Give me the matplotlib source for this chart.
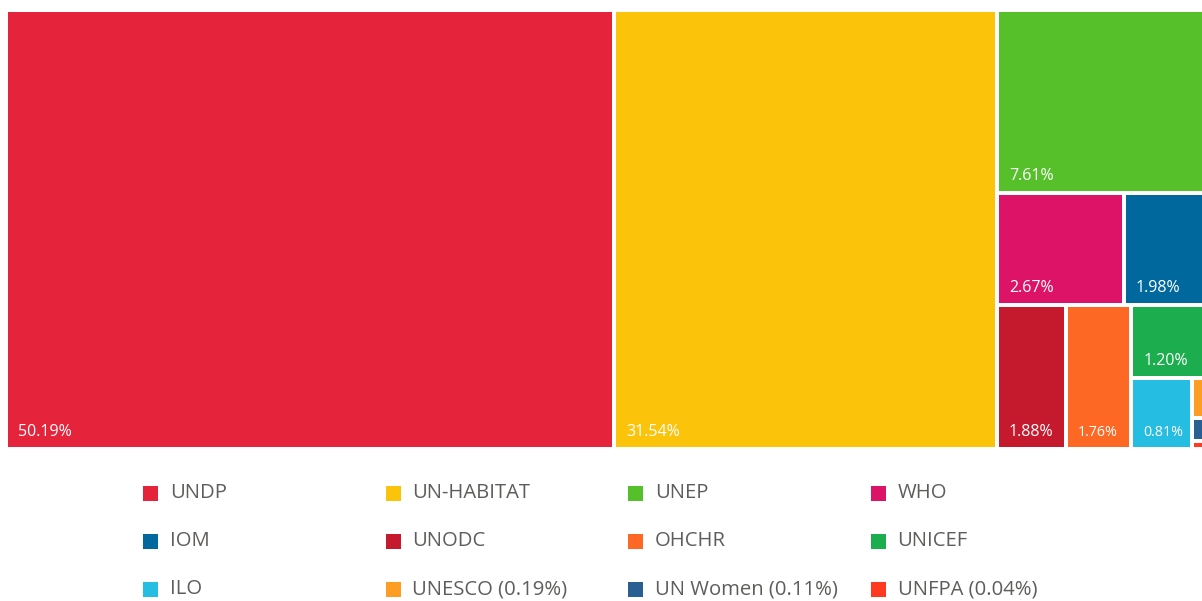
import matplotlib
matplotlib.use("Agg")
import matplotlib.pyplot as plt
from matplotlib.patches import Rectangle

plt.rcParams['font.family'] = ['Open Sans', 'DejaVu Sans']

agencies = ["UNDP", "UN-HABITAT", "UNEP", "WHO", "IOM", "UNODC", "OHCHR",
            "UNICEF", "ILO", "UNESCO", "UN Women", "UNFPA"]
shares = [50.19, 31.54, 7.61, 2.67, 1.98, 1.88, 1.76, 1.20, 0.81, 0.19, 0.11, 0.04]
colors = ["#E5243B", "#FCC30B", "#56C02B", "#DD1367", "#00689D", "#C5192D",
          "#FD6925", "#1BAD4E", "#26BDE2", "#FD9D24", "#2A5F93", "#FF3A21"]


def squarify(values, x0, y0, x1, y1, ratio=0.9):
    # squarified layout (d3 style), y grows downwards
    rects = []
    total = sum(values)
    i0, n = 0, len(values)
    while i0 < n:
        dx, dy = x1 - x0, y1 - y0
        s = values[i0]
        vmin = vmax = s
        alpha = max(dy / dx, dx / dy) / (total * ratio)
        beta = s * s * alpha
        best = max(vmax / beta, beta / vmin)
        i1 = i0 + 1
        while i1 < n:
            v = values[i1]
            s2 = s + v
            beta = s2 * s2 * alpha
            new = max(max(vmax, v) / beta, beta / min(vmin, v))
            if new > best:
                break
            s, best = s2, new
            vmin, vmax = min(vmin, v), max(vmax, v)
            i1 += 1
        row = values[i0:i1]
        if dx < dy:
            h = dy * s / total
            cx = x0
            for v in row:
                w = dx * v / s
                rects.append((cx, y0, w, h))
                cx += w
            y0 += h
        else:
            w = dx * s / total
            cy = y0
            for v in row:
                h = dy * v / s
                rects.append((x0, cy, w, h))
                cy += h
            x0 += w
        total -= s
        i0 = i1
    return rects


W, H = 1212, 439
fig = plt.figure(figsize=(12.02, 6.01), dpi=100)
ax = fig.add_axes([6 / 1202, 1 - 449 / 601, W / 1202, H / 601])
ax.set_xlim(0, W)
ax.set_ylim(H, 0)
ax.axis('off')

renderer = fig.canvas.get_renderer()
pad = 2
labelled = []
for (x, y, w, h), v, c in zip(squarify(shares, 0, 0, W, H), shares, colors):
    ax.add_patch(Rectangle((x + pad, y + pad), w - 2 * pad, h - 2 * pad,
                           facecolor=c, edgecolor='none'))
    tw = w - 2 * pad
    done = False
    if h > 30:
        for fs, margin in ((11.5, 18), (10.3, 12)):
            t = ax.text(x + pad + 10, y + h - pad - 11, f"{v:.2f}%", color='white',
                        fontsize=fs, va='baseline', ha='left')
            if t.get_window_extent(renderer).width + margin <= tw:
                done = True
                break
            t.remove()
    labelled.append(done)

# legend
lax = fig.add_axes([0, 0, 1, 1], zorder=-1)
lax.set_xlim(0, 1202)
lax.set_ylim(601, 0)
lax.axis('off')
for i, (name, v, c, ok) in enumerate(zip(agencies, shares, colors, labelled)):
    col, row = i % 4, i // 4
    sx = 143 + col * 242.5
    sy = 493 + row * 48
    lax.add_patch(Rectangle((sx, sy - 7.5), 15, 15, facecolor=c, edgecolor='none'))
    txt = name if ok else f"{name} ({v:.2f}%)"
    lax.text(sx + 27, sy, txt, fontsize=14.6, color='#5F5D5B', va='center', ha='left')

fig.savefig("out.png", dpi=100)
